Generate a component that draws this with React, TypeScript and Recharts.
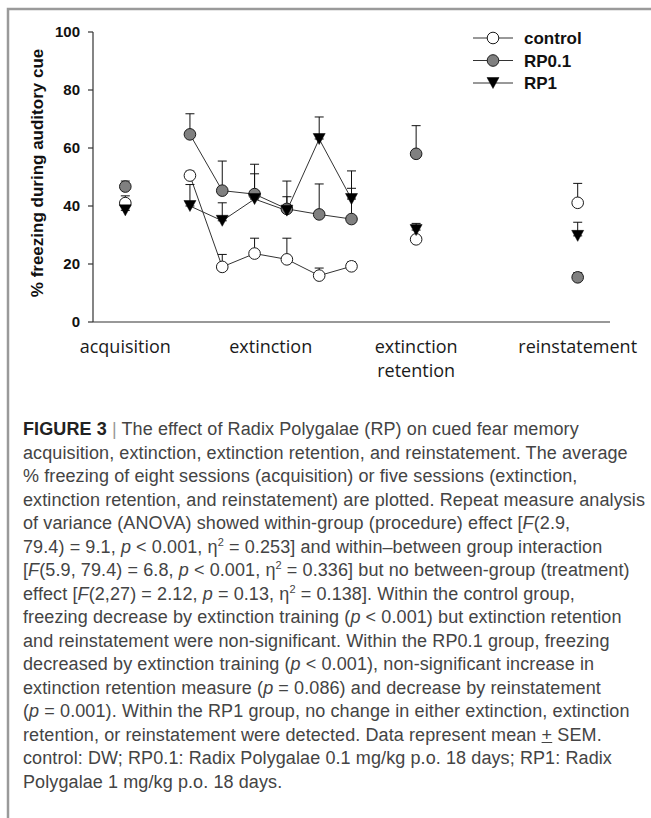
import React from 'react';
import { ComposedChart, Line, Scatter, XAxis, YAxis, ErrorBar, Legend } from 'recharts';

// x positions are session slots on a 0..16 axis
const phaseTicks = [1, 5.5, 10, 15];
const phaseLabels = [['acquisition'], ['extinction'], ['extinction', 'retention'], ['reinstatement']];
const extinctionSlots = [3, 4, 5, 6, 7, 8];
const singleSlots = [1, 10, 15]; // acquisition, extinction retention, reinstatement
const yTicks = [0, 20, 40, 60, 80, 100];

const controlExt = [50.5, 19.0, 23.6, 21.6, 16.0, 19.2];
const controlExtErr = [1.5, 4.3, 5.3, 7.3, 2.6, 1.5];
const controlSingle = [41.0, 28.5, 41.1];
const controlSingleErr = [2.5, 1.0, 6.7];

const rp01Ext = [64.7, 45.3, 44.1, 39.0, 37.1, 35.5];
const rp01ExtErr = [7.1, 10.2, 10.3, 9.6, 10.5, 10.6];
const rp01Single = [46.7, 58.0, 15.4];
const rp01SingleErr = [1.9, 9.7, 1.6];

const rp1Ext = [40.0, 34.9, 42.4, 38.4, 63.1, 42.4];
const rp1ExtErr = [7.4, 6.2, 8.7, 4.8, 7.6, 9.7];
const rp1Single = [38.5, 31.7, 29.7];
const rp1SingleErr = [1.5, 2.3, 4.7];

const rows = (slots: number[], vals: number[], errs: number[]) =>
  slots.map((x, i) => ({ x, y: vals[i], err: [0, errs[i]] }));

const series = [
  { name: 'control', fill: '#ffffff', shape: 'circle', ext: rows(extinctionSlots, controlExt, controlExtErr), single: rows(singleSlots, controlSingle, controlSingleErr) },
  { name: 'RP0.1', fill: '#808080', shape: 'circle', ext: rows(extinctionSlots, rp01Ext, rp01ExtErr), single: rows(singleSlots, rp01Single, rp01SingleErr) },
  { name: 'RP1', fill: '#000000', shape: 'triangle', ext: rows(extinctionSlots, rp1Ext, rp1ExtErr), single: rows(singleSlots, rp1Single, rp1SingleErr) },
];

function Marker({ cx, cy, fill, shape }: any) {
  if (cx == null || cy == null) return null;
  if (shape === 'triangle') {
    return <polygon points={`${cx - 6},${cy - 5.5} ${cx + 6},${cy - 5.5} ${cx},${cy + 5.5}`} fill="#000" stroke="#000" strokeWidth={0.5} />;
  }
  return <circle cx={cx} cy={cy} r={5.8} fill={fill} stroke="#1a1a1a" strokeWidth={1} />;
}

function PhaseTick({ x, y, payload }: any) {
  const idx = phaseTicks.indexOf(payload.value);
  const lines = phaseLabels[idx] || [];
  return (
    <text x={x} y={y} textAnchor="middle" fontFamily="'Open Sans', sans-serif" fontSize={18} fill="#1a1a1a">
      {lines.map((l, i) => (
        <tspan key={i} x={x} dy={i === 0 ? 23 : 24}>{l}</tspan>
      ))}
    </text>
  );
}

function LegendBox({ payload }: any) {
  const shown = (payload || []).map((p: any) => p.value);
  const items = series.filter((s) => shown.includes(s.name));
  return (
    <svg width={170} height={72}>
      {items.map((s, i) => {
        const cy = 12 + i * 22.5;
        return (
          <g key={s.name}>
            <line x1={3} x2={43} y1={cy} y2={cy} stroke="#333" strokeWidth={1} />
            <Marker cx={23} cy={cy} fill={s.fill} shape={s.shape} />
            <text x={54} y={cy + 6} fontFamily="'Liberation Sans', Arial, sans-serif" fontWeight="bold" fontSize={17} fill="#111">{s.name}</text>
          </g>
        );
      })}
    </svg>
  );
}

const YLabel = ({ viewBox }: any) => {
  const cx = 37;
  const cy = viewBox.y + viewBox.height / 2 - 4;
  return (
    <text x={cx} y={cy} transform={`rotate(-90 ${cx} ${cy})`} textAnchor="middle" dominantBaseline="central"
      fontFamily="'Liberation Sans', Arial, sans-serif" fontWeight="bold" fontSize={17} fill="#111">
      % freezing during auditory cue
    </text>
  );
};

const sup = { fontSize: 11, lineHeight: 0, verticalAlign: 'baseline', position: 'relative' as const, top: '-0.6em' };

const captionLines: React.ReactNode[] = [
  <><b style={{ fontWeight: 700, color: '#222' }}>FIGURE 3</b> <span style={{ color: '#999' }}>|</span> The effect of Radix Polygalae (RP) on cued fear memory</>,
  <>acquisition, extinction, extinction retention, and reinstatement. The average</>,
  <>% freezing of eight sessions (acquisition) or five sessions (extinction,</>,
  <>extinction retention, and reinstatement) are plotted. Repeat measure analysis</>,
  <>of variance (ANOVA) showed within-group (procedure) effect [<i>F</i>(2.9,</>,
  <>79.4) = 9.1, <i>p</i> &lt; 0.001, η<span style={sup}>2</span> = 0.253] and within–between group interaction</>,
  <>[<i>F</i>(5.9, 79.4) = 6.8, <i>p</i> &lt; 0.001, η<span style={sup}>2</span> = 0.336] but no between-group (treatment)</>,
  <>effect [<i>F</i>(2,27) = 2.12, <i>p</i> = 0.13, η<span style={sup}>2</span> = 0.138]. Within the control group,</>,
  <>freezing decrease by extinction training (<i>p</i> &lt; 0.001) but extinction retention</>,
  <>and reinstatement were non-significant. Within the RP0.1 group, freezing</>,
  <>decreased by extinction training (<i>p</i> &lt; 0.001), non-significant increase in</>,
  <>extinction retention measure (<i>p</i> = 0.086) and decrease by reinstatement</>,
  <>(<i>p</i> = 0.001). Within the RP1 group, no change in either extinction, extinction</>,
  <>retention, or reinstatement were detected. Data represent mean <u>+</u> SEM.</>,
  <>control: DW; RP0.1: Radix Polygalae 0.1 mg/kg p.o. 18 days; RP1: Radix</>,
  <>Polygalae 1 mg/kg p.o. 18 days.</>,
];

export default function App() {
  return (
    <div style={{ position: 'absolute', left: 0, top: 0, width: 651, height: 818, background: '#fff', overflow: 'hidden' }}>
      <svg width={651} height={818} style={{ position: 'absolute', left: 0, top: 0 }}>
        <path d="M8,818 L8,9 L651,9" fill="none" stroke="#9a9a9a" strokeWidth={2.5} />
      </svg>
      <div style={{ position: 'absolute', left: 0, top: 0 }}>
        <ComposedChart width={651} height={390} margin={{ top: 32, right: 41, bottom: 0, left: 0 }}>
          <XAxis
            type="number"
            dataKey="x"
            domain={[0, 16]}
            ticks={phaseTicks}
            tick={<PhaseTick />}
            tickLine={false}
            height={68}
            axisLine={{ stroke: '#333', strokeWidth: 1.2 }}
          />
          <YAxis
            type="number"
            dataKey="y"
            domain={[0, 100]}
            ticks={yTicks}
            width={93}
            tickSize={5}
            tickMargin={8}
            axisLine={{ stroke: '#333', strokeWidth: 1.2 }}
            tickLine={{ stroke: '#333', strokeWidth: 1.2 }}
            tick={{ fontFamily: "'Liberation Sans', Arial, sans-serif", fontWeight: 'bold', fontSize: 15, fill: '#111' }}
            label={<YLabel />}
          />
          <Legend
            layout="horizontal"
            verticalAlign="middle"
            align="center"
            wrapperStyle={{ top: 26, left: 470, width: 170, height: 72 }}
            content={<LegendBox />}
          />
          {series.map((s) => [
            <Line
              key={s.name + '-line'}
              name={s.name}
              data={s.ext}
              dataKey="y"
              stroke="#333"
              strokeWidth={1}
              isAnimationActive={false}
              activeDot={false}
              dot={(p: any) => <Marker key={s.name + p.index} cx={p.cx} cy={p.cy} fill={s.fill} shape={s.shape} />}
            >
              <ErrorBar dataKey="err" direction="y" width={4.5} stroke="#111" strokeWidth={1} />
            </Line>,
            <Scatter
              key={s.name + '-pts'}
              name={s.name + ' single'}
              data={s.single}
              dataKey="y"
              legendType="none"
              isAnimationActive={false}
              shape={(p: any) => <Marker cx={p.cx} cy={p.cy} fill={s.fill} shape={s.shape} />}
            >
              <ErrorBar dataKey="err" direction="y" width={4.5} stroke="#111" strokeWidth={1} />
            </Scatter>,
          ])}
        </ComposedChart>
      </div>
      <div style={{ position: 'absolute', left: 23, top: 418, width: 625, fontFamily: "'Liberation Sans', Arial, sans-serif", fontSize: 18, letterSpacing: 0.1, lineHeight: '23.5px', color: '#444', whiteSpace: 'nowrap' }}>
        {captionLines.map((l, i) => (
          <div key={i}>{l}</div>
        ))}
      </div>
    </div>
  );
}
